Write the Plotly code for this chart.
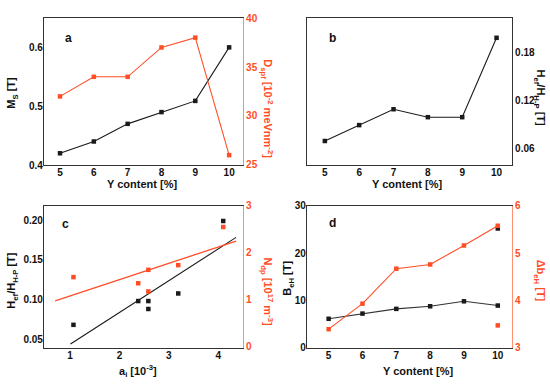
import numpy as np
import plotly.graph_objects as go

# ---------------- data ----------------
Y_CONTENT = [5, 6, 7, 8, 9, 10]
MS = [0.42, 0.44, 0.47, 0.49, 0.509, 0.60]
DSPF = [32, 34, 34, 37, 38, 26]

HEF_HHP = [0.069, 0.089, 0.109, 0.099, 0.099, 0.199]

AI = [1.07, 2.38, 2.585, 2.585, 3.19, 4.10]
HEF_C = [0.068, 0.098, 0.098, 0.088, 0.1076, 0.199]
AI_N = [1.07, 2.38, 2.585, 2.585, 3.19, 4.10]
NDP = [1.485, 1.355, 1.64, 1.18, 1.74, 2.55]
FIT_X_BLACK = [1.01, 4.36]
FIT_X_ORANGE = [0.70, 4.36]

BSH = [6.1, 7.2, 8.2, 8.75, 9.8, 8.9]
BSH_EXTRA_X = [10]
BSH_EXTRA = [25.2]
DBSH = [3.39, 3.93, 4.67, 4.76, 5.16, 5.58]
DBSH_EXTRA_X = [10]
DBSH_EXTRA = [3.47]

# ---------------- style ----------------
W, H = 550, 386
BLACK = "#1a1a1a"
ORANGE = "#ff4d26"
ORANGE_AX = "#ff8f73"
FONT = "Liberation Sans, Arial, sans-serif"
TICKF = dict(family=FONT, size=10, color="#111", weight="bold")
TICKF_O = dict(family=FONT, size=10, color=ORANGE, weight="bold")


def px_x(a, b):
    return [a / W, b / W]


def px_y(top, bottom):
    return [1 - bottom / H, 1 - top / H]


DA_X = px_x(44, 243)
DB_X = px_x(307, 512)
TOP_Y = px_y(13.3, 164.3)
BOT_Y = px_y(206, 352)

fig = go.Figure()

mk = dict(symbol="square", size=4.5)

# panel a
fig.add_trace(go.Scatter(x=Y_CONTENT, y=MS, mode="lines+markers", xaxis="x", yaxis="y",
                         line=dict(color=BLACK, width=1.1), marker=dict(color=BLACK, **mk)))
fig.add_trace(go.Scatter(x=Y_CONTENT, y=DSPF, mode="lines+markers", xaxis="x", yaxis="y2",
                         line=dict(color=ORANGE, width=1.1), marker=dict(color=ORANGE, **mk)))
# panel b
fig.add_trace(go.Scatter(x=Y_CONTENT, y=HEF_HHP, mode="lines+markers", xaxis="x2", yaxis="y3",
                         line=dict(color=BLACK, width=1.1), marker=dict(color=BLACK, **mk)))
# panel c
kb = np.polyfit(AI, HEF_C, 1)
ko = np.polyfit(AI_N, NDP, 1)
fig.add_trace(go.Scatter(x=AI, y=HEF_C, mode="markers", xaxis="x3", yaxis="y4",
                         marker=dict(color=BLACK, **mk)))
fig.add_trace(go.Scatter(x=FIT_X_BLACK, y=list(np.polyval(kb, FIT_X_BLACK)), mode="lines",
                         xaxis="x3", yaxis="y4", line=dict(color=BLACK, width=1.1)))
fig.add_trace(go.Scatter(x=AI_N, y=NDP, mode="markers", xaxis="x3", yaxis="y5",
                         marker=dict(color=ORANGE, **mk)))
fig.add_trace(go.Scatter(x=FIT_X_ORANGE, y=list(np.polyval(ko, FIT_X_ORANGE)), mode="lines",
                         xaxis="x3", yaxis="y5", line=dict(color=ORANGE, width=1.3)))
# panel d
fig.add_trace(go.Scatter(x=Y_CONTENT, y=BSH, mode="lines+markers", xaxis="x4", yaxis="y6",
                         line=dict(color="#333", width=1.1), marker=dict(color=BLACK, **mk)))
fig.add_trace(go.Scatter(x=BSH_EXTRA_X, y=BSH_EXTRA, mode="markers", xaxis="x4", yaxis="y6",
                         marker=dict(color=BLACK, **mk)))
fig.add_trace(go.Scatter(x=Y_CONTENT, y=DBSH, mode="lines+markers", xaxis="x4", yaxis="y7",
                         line=dict(color=ORANGE, width=1.1), marker=dict(color=ORANGE, **mk)))
fig.add_trace(go.Scatter(x=DBSH_EXTRA_X, y=DBSH_EXTRA, mode="markers", xaxis="x4", yaxis="y7",
                         marker=dict(color=ORANGE, **mk)))

common = dict(showgrid=False, zeroline=False, ticks="", tickfont=TICKF)


def xax(domain, rng, anchor, tickvals, mirror=True):
    return dict(domain=domain, range=rng, anchor=anchor, tickvals=tickvals, showline=True,
                linecolor="#333", linewidth=1.2, mirror=mirror, ticklabelstandoff=-2, **common)


fig.update_layout(
    width=W, height=H, margin=dict(l=0, r=0, t=0, b=0),
    paper_bgcolor="white", plot_bgcolor="white", showlegend=False,
    xaxis=xax(DA_X, [4.527, 10.41], "y", Y_CONTENT),
    yaxis=dict(domain=TOP_Y, range=[0.4, 0.65], anchor="x", tickvals=[0.4, 0.5, 0.6],
               tickformat=".1f", showline=True, linecolor="#333", linewidth=1.2,
               ticklabelstandoff=-2, **common),
    yaxis2=dict(overlaying="y", side="right", anchor="x", range=[24.99, 40.01], tickvals=[25, 30, 35, 40],
                showline=True, linecolor=ORANGE_AX, linewidth=1.2, showgrid=False, zeroline=False,
                ticks="", tickfont=TICKF_O),
    xaxis2=xax(DB_X, [4.48, 10.45], "y3", Y_CONTENT),
    yaxis3=dict(domain=TOP_Y, range=[0.0387, 0.224], anchor="x2", side="right",
                tickvals=[0.06, 0.12, 0.18], tickformat=".2f", showline=True, linecolor="#333",
                linewidth=1.2, mirror=True, **common),
    xaxis3=xax(DA_X, [0.474, 4.5], "y4", [1, 2, 3, 4]),
    yaxis4=dict(domain=BOT_Y, range=[0.0389, 0.2184], anchor="x3",
                tickvals=[0.05, 0.10, 0.15, 0.20], tickformat=".2f", showline=True,
                linecolor="#333", linewidth=1.2, ticklabelstandoff=-2, **common),
    yaxis5=dict(overlaying="y4", side="right", anchor="x3", range=[-0.02, 3.005], tickvals=[0, 1, 2, 3],
                showline=True, linecolor=ORANGE_AX, linewidth=1.2, showgrid=False, zeroline=False,
                ticks="", tickfont=TICKF_O),
    xaxis4=xax(DB_X, [4.36, 10.42], "y6", Y_CONTENT),
    yaxis6=dict(domain=BOT_Y, range=[-0.06, 30.05], anchor="x4", tickvals=[0, 10, 20, 30],
                showline=True, linecolor="#333", linewidth=1.2, ticklabelstandoff=-2, **common),
    yaxis7=dict(overlaying="y6", side="right", anchor="x4", range=[2.994, 6.005], tickvals=[3, 4, 5, 6],
                showline=True, linecolor=ORANGE_AX, linewidth=1.2, showgrid=False, zeroline=False,
                ticks="", tickfont=TICKF_O),
)

TF = dict(family=FONT, size=11, color="#111", weight="bold")
TF_O = dict(family=FONT, size=11, color=ORANGE, weight="bold")
LF = dict(family=FONT, size=12, color="#111", weight="bold")


def ann(text, x, y, font, angle=0):
    fig.add_annotation(text=text, x=x / W, y=1 - y / H, xref="paper", yref="paper",
                       showarrow=False, textangle=angle, font=font, xanchor="center", yanchor="middle")


# x titles
ann("Y content [%]", 142, 184, TF)
ann("Y content [%]", 407, 184, TF)
ann("a<sub>i</sub> [10<sup>-3</sup>]", 138, 376, TF)
ann("Y content [%]", 418, 376, TF)
# y titles
ann("M<sub>S</sub> [T]", 12, 90, TF, -90)
ann("D<sub>spf</sub> [10<sup>-2</sup> meVnm<sup>-2</sup>]", 267, 106, TF_O, 90)
ann("H<sub>ef</sub>/H<sub>H-P</sub> [T]", 540, 95, TF, 90)
ann("H<sub>ef</sub>/H<sub>H-P</sub> [T]", 12, 283, TF, -90)
ann("N<sub>dp</sub> [10<sup>17</sup> m<sup>-3</sup>]", 267, 294, TF_O, 90)
ann("B<sub>eH</sub> [T]", 288, 281, TF, -90)
ann("Δb<sub>eH</sub> [T]", 540, 283, TF_O, 90)
# panel letters
ann("a", 68, 34, LF)
ann("b", 332, 34, LF)
ann("c", 65, 225, LF)
ann("d", 332, 224, LF)

fig.write_html("out.html", config={"displayModeBar": False},
               post_script="document.body.style.margin='0';document.body.style.overflow='hidden';")
